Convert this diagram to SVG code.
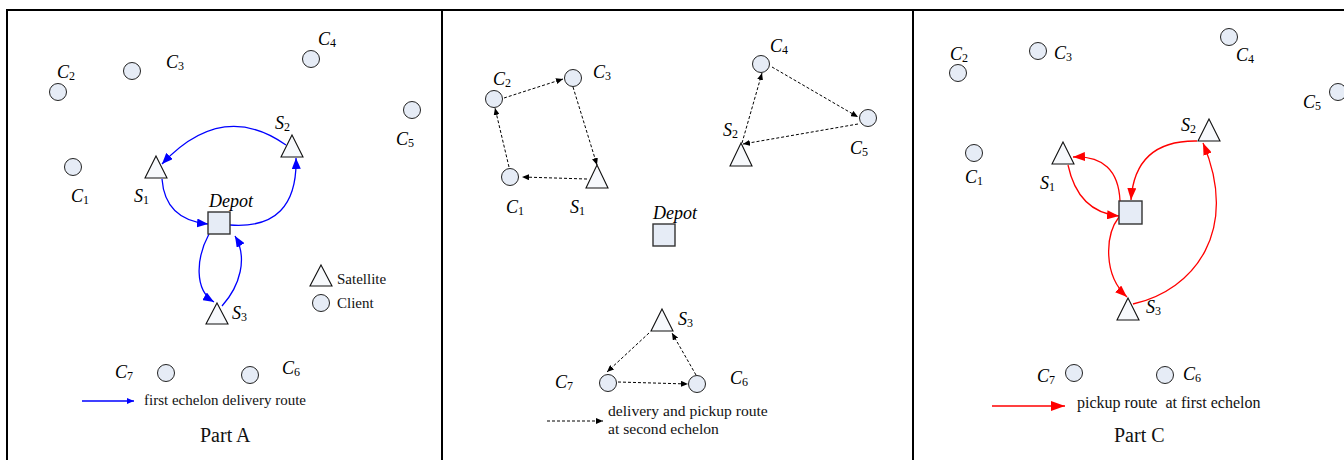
<svg xmlns="http://www.w3.org/2000/svg" width="1344" height="460" viewBox="0 0 1344 460">
<style>
.frame{stroke:#000;stroke-width:2;fill:none}
.cli{fill:#e6ecf6;stroke:#222;stroke-width:1}
.sat{fill:#f7f9fc;stroke:#111;stroke-width:1.1}
.dep{fill:#e6ecf6;stroke:#333;stroke-width:1.4}
.lbl{font-family:"Liberation Serif",serif;font-style:italic;font-size:18px;fill:#000}
.sub{font-style:normal;font-size:12px}
.txt{font-family:"Liberation Serif",serif;font-size:15px;fill:#111}
.part{font-family:"Liberation Serif",serif;font-size:20px;fill:#111}
.blue{stroke:#0000ff;stroke-width:1.3;fill:none;marker-end:url(#ab)}
.red{stroke:#ff0000;stroke-width:1.3;fill:none;marker-end:url(#ar)}
.dash{stroke:#000;stroke-width:1;stroke-dasharray:3 2;fill:none;marker-end:url(#ak)}
</style>
<defs>
<marker id="ab" markerUnits="userSpaceOnUse" markerWidth="11" markerHeight="9" refX="11" refY="4.5" orient="auto"><path d="M0,0 L11,4.5 L0,9 Z" fill="#0000ff"/></marker>
<marker id="abs" markerUnits="userSpaceOnUse" markerWidth="7" markerHeight="6" refX="7" refY="3" orient="auto"><path d="M0,0 L7,3 L0,6 Z" fill="#0000ff"/></marker>
<marker id="ar" markerUnits="userSpaceOnUse" markerWidth="12" markerHeight="9" refX="12" refY="4.5" orient="auto"><path d="M0,0 L12,4.5 L0,9 Z" fill="#ff0000"/></marker>
<marker id="arl" markerUnits="userSpaceOnUse" markerWidth="14" markerHeight="10" refX="14" refY="5" orient="auto"><path d="M0,0 L14,5 L0,10 Z" fill="#ff0000"/></marker>
<marker id="ak" markerUnits="userSpaceOnUse" markerWidth="7" markerHeight="6" refX="7" refY="3" orient="auto"><path d="M0,0 L7,3 L0,6 Z" fill="#000"/></marker>
</defs>
<rect width="1344" height="460" fill="#fff"/>
<g id="frame">
<path class="frame" d="M7,460 V10 H1344 M442,10 V460 M913,10 V460"/>
</g>

<!-- PART A -->
<g id="connectors-a">
<path class="blue" d="M286,145 Q222,100 162,164"/>
<path class="blue" d="M162,179 Q165,220 208,224"/>
<path class="blue" d="M230,225 Q298,230 296,158"/>
<path class="blue" d="M209,234 C196,258 194,290 214,302"/>
<path class="blue" d="M222,306 C240,286 248,258 235,236"/>
</g>
<g id="a-c1"><circle class="cli" cx="73" cy="167" r="8.5"/><text class="lbl" x="71" y="202">C<tspan class="sub" dy="2">1</tspan></text></g>
<g id="a-c2"><circle class="cli" cx="58" cy="92" r="8.5"/><text class="lbl" x="57" y="78">C<tspan class="sub" dy="2">2</tspan></text></g>
<g id="a-c3"><circle class="cli" cx="132" cy="71" r="8.5"/><text class="lbl" x="166" y="68">C<tspan class="sub" dy="2">3</tspan></text></g>
<g id="a-c4"><circle class="cli" cx="311" cy="59" r="8.5"/><text class="lbl" x="318" y="45">C<tspan class="sub" dy="2">4</tspan></text></g>
<g id="a-c5"><circle class="cli" cx="412" cy="110" r="8.5"/><text class="lbl" x="396" y="145">C<tspan class="sub" dy="2">5</tspan></text></g>
<g id="a-c6"><circle class="cli" cx="250" cy="375" r="8.5"/><text class="lbl" x="282" y="374">C<tspan class="sub" dy="2">6</tspan></text></g>
<g id="a-c7"><circle class="cli" cx="166" cy="373" r="8.5"/><text class="lbl" x="115" y="378">C<tspan class="sub" dy="2">7</tspan></text></g>
<g id="a-s1"><polygon class="sat" points="156,156 167,178 145,178"/><text class="lbl" x="134" y="202">S<tspan class="sub" dy="2">1</tspan></text></g>
<g id="a-s2"><polygon class="sat" points="292,135 303,157 281,157"/><text class="lbl" x="275" y="129">S<tspan class="sub" dy="2">2</tspan></text></g>
<g id="a-s3"><polygon class="sat" points="217,303 228,324 206,324"/><text class="lbl" x="232" y="319">S<tspan class="sub" dy="2">3</tspan></text></g>
<g id="a-depot"><rect class="dep" x="208" y="212" width="22" height="22"/><text class="lbl" x="209" y="207">Depot</text></g>
<g id="a-legend">
<polygon class="sat" points="321,265 332,286 310,286"/><text class="txt" x="337" y="284">Satellite</text>
<circle class="cli" cx="321" cy="303" r="8.5"/><text class="txt" x="337" y="308">Client</text>
<path d="M82,401 H134" stroke="#0000ff" stroke-width="1.3" marker-end="url(#abs)"/>
<text class="txt" x="144" y="405">first echelon delivery route</text>
<text class="part" x="200" y="442">Part A</text>
</g>

<!-- PART B -->
<g id="connectors-b">
<path class="dash" d="M587,179 L522,177"/>
<path class="dash" d="M509,167 L495,108"/>
<path class="dash" d="M504,98 L563,79"/>
<path class="dash" d="M573,87 L597,165"/>
<path class="dash" d="M742,143 L762,73"/>
<path class="dash" d="M772,67 L858,117"/>
<path class="dash" d="M858,124 L743,144"/>
<path class="dash" d="M649,333 L607,372"/>
<path class="dash" d="M618,382 L688,384"/>
<path class="dash" d="M696,375 L672,333"/>
</g>
<g id="b-c1"><circle class="cli" cx="510" cy="177" r="8.5"/><text class="lbl" x="506" y="213">C<tspan class="sub" dy="2">1</tspan></text></g>
<g id="b-c2"><circle class="cli" cx="494" cy="99" r="8.5"/><text class="lbl" x="493" y="85">C<tspan class="sub" dy="2">2</tspan></text></g>
<g id="b-c3"><circle class="cli" cx="573" cy="78" r="8.5"/><text class="lbl" x="593" y="78">C<tspan class="sub" dy="2">3</tspan></text></g>
<g id="b-c4"><circle class="cli" cx="761" cy="64" r="8.5"/><text class="lbl" x="770" y="52">C<tspan class="sub" dy="2">4</tspan></text></g>
<g id="b-c5"><circle class="cli" cx="868" cy="118" r="8.5"/><text class="lbl" x="850" y="154">C<tspan class="sub" dy="2">5</tspan></text></g>
<g id="b-c6"><circle class="cli" cx="697" cy="384" r="8.5"/><text class="lbl" x="730" y="384">C<tspan class="sub" dy="2">6</tspan></text></g>
<g id="b-c7"><circle class="cli" cx="608" cy="383" r="8.5"/><text class="lbl" x="555" y="388">C<tspan class="sub" dy="2">7</tspan></text></g>
<g id="b-s1"><polygon class="sat" points="597,165 608,188 586,188"/><text class="lbl" x="570" y="213">S<tspan class="sub" dy="2">1</tspan></text></g>
<g id="b-s2"><polygon class="sat" points="741,143 752,166 730,166"/><text class="lbl" x="723" y="136">S<tspan class="sub" dy="2">2</tspan></text></g>
<g id="b-s3"><polygon class="sat" points="662,309 673,331 651,331"/><text class="lbl" x="678" y="325">S<tspan class="sub" dy="2">3</tspan></text></g>
<g id="b-depot"><rect class="dep" x="653" y="224" width="22" height="22"/><text class="lbl" x="653" y="219">Depot</text></g>
<g id="b-legend">
<path d="M547,421 H603" stroke="#000" stroke-width="1" stroke-dasharray="3 2" marker-end="url(#ak)"/>
<text class="txt" x="608" y="416" style="font-size:15.6px">delivery and pickup route</text>
<text class="txt" x="608" y="434" style="font-size:15.6px">at second echelon</text>
</g>

<!-- PART C -->
<g id="connectors-c">
<path class="red" d="M1120,201 Q1118,155 1073,157"/>
<path class="red" d="M1068,165 Q1078,212 1119,216"/>
<path class="red" d="M1197,141 Q1135,140 1131,200"/>
<path class="red" d="M1119,217 C1105,235 1103,275 1127,297"/>
<path class="red" d="M1133,304 C1195,290 1240,230 1203,143"/>
</g>
<g id="c-c1"><circle class="cli" cx="974" cy="153" r="8.5"/><text class="lbl" x="965" y="183">C<tspan class="sub" dy="2">1</tspan></text></g>
<g id="c-c2"><circle class="cli" cx="958" cy="73" r="8.5"/><text class="lbl" x="950" y="60">C<tspan class="sub" dy="2">2</tspan></text></g>
<g id="c-c3"><circle class="cli" cx="1038" cy="51" r="8.5"/><text class="lbl" x="1054" y="59">C<tspan class="sub" dy="2">3</tspan></text></g>
<g id="c-c4"><circle class="cli" cx="1229" cy="37" r="8.5"/><text class="lbl" x="1236" y="61">C<tspan class="sub" dy="2">4</tspan></text></g>
<g id="c-c5"><circle class="cli" cx="1338" cy="92" r="8.5"/><text class="lbl" x="1303" y="108">C<tspan class="sub" dy="2">5</tspan></text></g>
<g id="c-c6"><circle class="cli" cx="1165" cy="375" r="8.5"/><text class="lbl" x="1183" y="380">C<tspan class="sub" dy="2">6</tspan></text></g>
<g id="c-c7"><circle class="cli" cx="1074" cy="373" r="8.5"/><text class="lbl" x="1037" y="382">C<tspan class="sub" dy="2">7</tspan></text></g>
<g id="c-s1"><polygon class="sat" points="1063,142 1074,164 1052,164"/><text class="lbl" x="1040" y="189">S<tspan class="sub" dy="2">1</tspan></text></g>
<g id="c-s2"><polygon class="sat" points="1209,119 1220,141 1198,141"/><text class="lbl" x="1181" y="131">S<tspan class="sub" dy="2">2</tspan></text></g>
<g id="c-s3"><polygon class="sat" points="1128,298 1139,320 1117,320"/><text class="lbl" x="1146" y="313">S<tspan class="sub" dy="2">3</tspan></text></g>
<g id="c-depot"><rect class="dep" x="1119" y="201" width="23" height="23"/></g>
<g id="c-legend">
<path d="M992,406 H1065" stroke="#ff0000" stroke-width="1.3" marker-end="url(#arl)"/>
<text class="txt" x="1077" y="408" style="font-size:16px" xml:space="preserve">pickup route  at first echelon</text>
<text class="part" x="1114" y="442">Part C</text>
</g>
</svg>
